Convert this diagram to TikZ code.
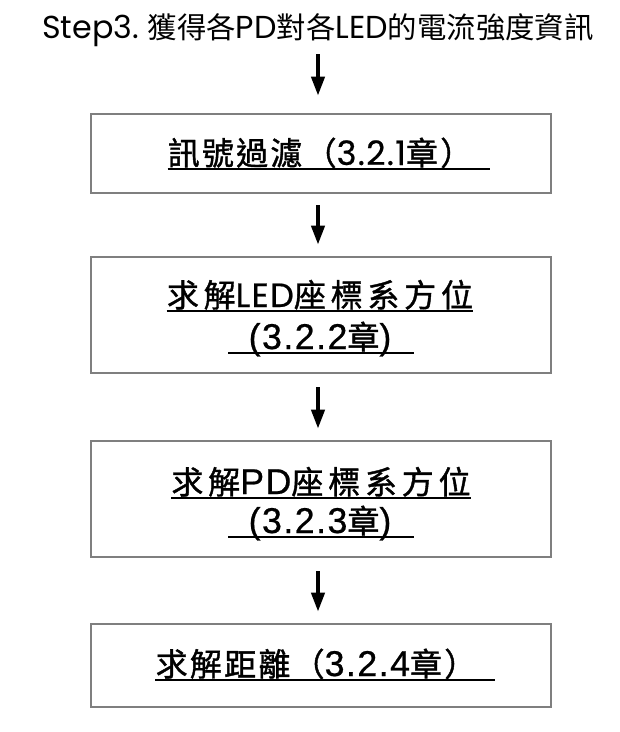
\documentclass[tikz,border=0pt]{standalone}
\usepackage{fontspec}
\usetikzlibrary{arrows.meta}
\setmainfont{Noto Sans CJK TC}
\newfontfamily\geo[Scale=1.08]{Poppins}
% heavier faces for the box captions
\newfontfamily\bx[LetterSpace=7,FakeBold=1.2]{Noto Sans CJK TC}
\newfontfamily\bxw[LetterSpace=15,FakeBold=1.2]{Noto Sans CJK TC}
\newfontfamily\bgeo[Scale=1.05,LetterSpace=4,FakeBold=0.6]{Poppins}
\newfontfamily\bari[Scale=1.12,LetterSpace=4,FakeBold=0.6]{Liberation Sans}
\definecolor{boxgray}{HTML}{7F7F7F}
\tikzset{
  stepbox/.style={draw=boxgray, line width=2.6pt, minimum width=460pt, inner sep=0pt},
  lbl/.style={inner sep=0pt, anchor=base, font=\bx\fontsize{32}{36}\selectfont},
  lblw/.style={lbl, font=\bxw\fontsize{32}{36}\selectfont},
  uline/.style={line width=2pt},
  flow/.style={line width=4pt, -{Triangle[width=13pt,length=19pt]}, shorten <=11pt, shorten >=11pt}
}
\begin{document}
\begin{tikzpicture}[x=1pt,y=-1pt]
\useasboundingbox (0,0) rectangle (620,732);

% heading
\node[inner sep=0pt, anchor=base, font=\fontsize{29.4}{33}\selectfont] (title) at (318,38)
  {{\geo Step3.} 獲得各{\geo PD}對各{\geo LED}的電流強度資訊};

% process boxes
\node[stepbox, minimum height=79pt]  (b1) at (321,153.5) {};
\node[stepbox, minimum height=116pt] (b2) at (321,315) {};
\node[stepbox, minimum height=116pt] (b3) at (321,499) {};
\node[stepbox, minimum height=83pt]  (b4) at (321,665.5) {};

% box texts
\node[lbl] (t1) at (320,165) {訊號過濾（{\bgeo 3.2.1}章）};
\node[lblw] (t2a) at (320,307) {求解{\bgeo LED}座標系方位};
\node[lbl] (t2b) at (320,349) {{\bari (3.2.2}章{\bari )}};
\node[lblw] (t3a) at (321,494) {求解{\bari PD}座標系方位};
\node[lbl] (t3b) at (320,533) {{\bari (3.2.3}章{\bari )}};
\node[lbl] (t4) at (316,676) {求解距離（{\bari 3.2.4}章）};

% underlines
\draw[uline] ([yshift=-4pt]t1.base west) -- ([xshift=18pt,yshift=-4pt]t1.base east);
\draw[uline] ([yshift=-4pt]t2a.base west) -- ([yshift=-4pt]t2a.base east);
\draw[uline] ([xshift=-20pt,yshift=-4pt]t2b.base west) -- ([xshift=22pt,yshift=-4pt]t2b.base east);
\draw[uline] ([yshift=-4pt]t3a.base west) -- ([yshift=-4pt]t3a.base east);
\draw[uline] ([xshift=-20pt,yshift=-4pt]t3b.base west) -- ([xshift=22pt,yshift=-4pt]t3b.base east);
\draw[uline] ([yshift=-4pt]t4.base west) -- ([xshift=18pt,yshift=-4pt]t4.base east);

% flow arrows
\draw[flow, shorten <=16pt, shorten >=17pt] (title.base) -- (title.base |- b1.north);
\draw[flow] (b1.south -| title.base) -- (b2.north -| title.base);
\draw[flow, shorten <=13pt] (b2.south -| title.base) -- (b3.north -| title.base);
\draw[flow, shorten <=13pt] (b3.south -| title.base) -- (b4.north -| title.base);
\end{tikzpicture}
\end{document}
